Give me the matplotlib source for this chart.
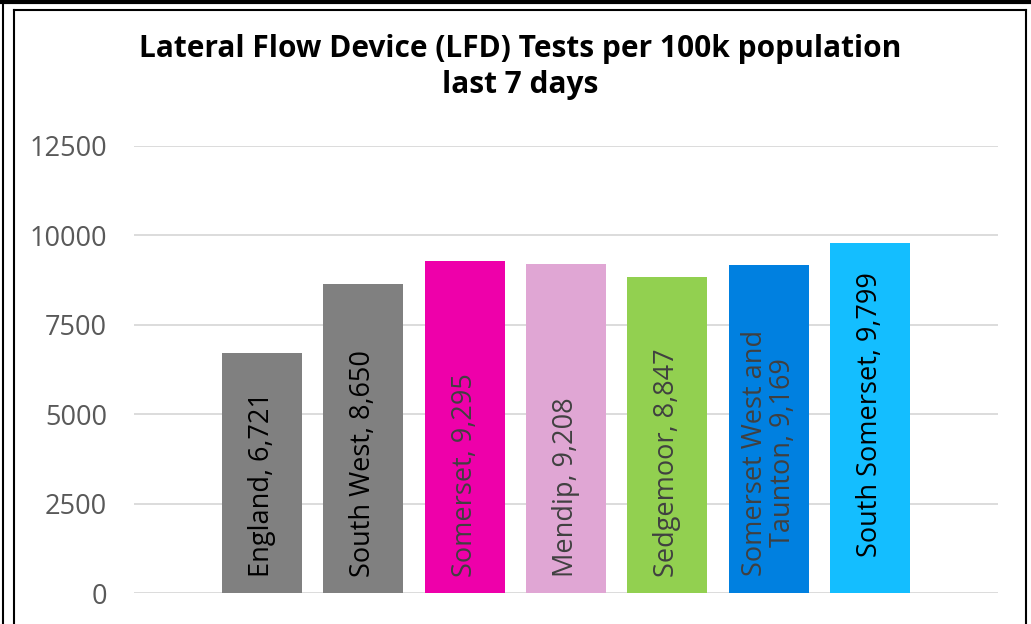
import matplotlib
matplotlib.use("Agg")
import matplotlib.pyplot as plt
from matplotlib.lines import Line2D

plt.rcParams['font.family'] = ['Open Sans', 'DejaVu Sans']

categories = ["England", "South West", "Somerset", "Mendip", "Sedgemoor",
              "Somerset West and\nTaunton", "South Somerset"]
values = [6721, 8650, 9295, 9208, 8847, 9169, 9799]
colors = ["#808080", "#808080", "#EE00AA", "#E0A6D4", "#92D050", "#0080E0", "#14BEFF"]
label_colors = ["#000000", "#000000", "#404040", "#404040", "#404040", "#404040", "#000000"]
label_offsets_px = [16, 16, 16, 16, 16, 17, 36]
yticks = [0, 2500, 5000, 7500, 10000, 12500]
title = "Lateral Flow Device (LFD) Tests per 100k population\nlast 7 days"

W, H = 1031, 624
fig = plt.figure(figsize=(W / 100, H / 100), dpi=100)

def fx(x): return x / W
def fy(y): return 1 - y / H

# frame lines
fig.add_artist(Line2D([0, 1], [fy(1.5), fy(1.5)], color="black", lw=3.0))
fig.add_artist(Line2D([fx(2.5), fx(2.5)], [0, 1], color="black", lw=1.5))
fig.add_artist(Line2D([fx(13.5), fx(1025.5)], [fy(9.5), fy(9.5)], color="black", lw=1.5))
fig.add_artist(Line2D([fx(13.5), fx(13.5)], [fy(9.5), 0], color="black", lw=1.5))
fig.add_artist(Line2D([fx(1025.5), fx(1025.5)], [fy(9.5), 0], color="black", lw=1.5))

ax = fig.add_axes([fx(134), fy(593), fx(998) - fx(134), fy(146) - fy(593)])
x = list(range(len(categories)))
ax.bar(x, values, width=0.79, color=colors, zorder=2)
ax.set_xlim(-1.26, 7.26)
ax.set_ylim(0, 12500)
ax.set_yticks(yticks)
ax.set_yticklabels([str(t) for t in yticks], fontsize=19.5, color="#595959")
ax.tick_params(axis="y", length=0, pad=19.5)
ax.set_xticks([])
for s in ax.spines.values():
    s.set_visible(False)
ax.grid(axis="y", color="#D9D9D9", lw=1.3, zorder=0)

for xi, cat, v, lc, off in zip(x, categories, values, label_colors, label_offsets_px):
    ax.annotate(f"{cat}, {v:,}", xy=(xi, 0), xytext=(0, off), textcoords="offset pixels",
                rotation=90, ha="center", va="bottom", multialignment="center",
                fontsize=19.5, color=lc, zorder=3, linespacing=1.0)

fig.text(fx(520), fy(67), title, ha="center", va="center", fontsize=21.5,
         fontweight="bold", color="black", linespacing=1.3)

fig.savefig("out.png", dpi=100)
